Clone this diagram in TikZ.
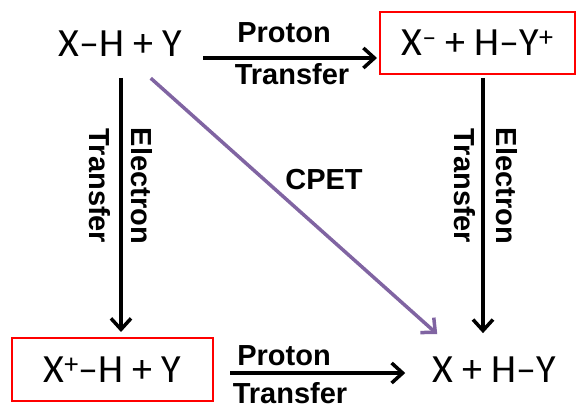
\documentclass[tikz,border=0pt]{standalone}
\usepackage{fontspec}
\setmainfont{Carlito}
\newfontfamily\labelfamily{Liberation Sans}
\usetikzlibrary{arrows.meta}
\definecolor{cpetpurple}{HTML}{8064A2}

\begin{document}
\begin{tikzpicture}[x=1pt,y=-1pt,
    species/.style={font=\fontsize{40}{48}\selectfont, inner sep=0pt},
    boxed/.style={species, draw=red, line width=2pt},
    steplabel/.style={font=\labelfamily\bfseries\fontsize{29}{42}\selectfont, inner sep=0pt},
    transfer/.style={line width=3.5pt, -{Straight Barb[length=11pt,width=20pt]}},
    cpet/.style={transfer, cpetpurple}]
  \useasboundingbox (0,0) rectangle (576,409);

  % the four states
  \node[species, anchor=base] (xhy) at (120,57) {X–H + Y};
  \node[boxed, minimum width=195pt, minimum height=62pt] (cation) at (477.5,43) {X\textsuperscript{–} + H–Y\textsuperscript{+}};
  \node[boxed, minimum width=201pt, minimum height=63pt] (radical) at (112.5,369.5) {X\textsuperscript{+}–H + Y};
  \node[species, anchor=base] (product) at (494,382) {X + H–Y};

  % proton transfer steps
  \coordinate (pt1) at (203,58);
  \draw[transfer, shorten >=2pt] (pt1) -- (pt1 -| cation.west);
  \node[steplabel, anchor=base] (pt1a) at (284,43) {Proton};
  \node[steplabel, anchor=base] (pt1b) at (292,85) {Transfer};

  \coordinate (pt2) at (230,373);
  \draw[transfer, shorten >=27pt] (pt2) -- (pt2 -| product.west);
  \node[steplabel, anchor=base] (pt2a) at (284,365) {Proton};
  \node[steplabel, anchor=base] (pt2b) at (290,403) {Transfer};

  % electron transfer steps
  \coordinate (et1) at (121,78);
  \draw[transfer, shorten >=5pt] (et1) -- (et1 |- radical.north);
  \node[steplabel, rotate=-90, align=center] (et1label) at (121,186) {Electron\\Transfer};

  \coordinate (et2) at (483,78);
  \draw[transfer, shorten >=23pt] (et2) -- (et2 |- product.north);
  \node[steplabel, rotate=-90, align=center] (et2label) at (486,186) {Electron\\Transfer};

  % concerted path
  \draw[cpet] ([xshift=-31pt,yshift=-21pt]xhy.south east) -- ([xshift=5pt,yshift=22pt]product.north west);
  \node[steplabel] (cpetlabel) at (324,180) {CPET};
\end{tikzpicture}
\end{document}
